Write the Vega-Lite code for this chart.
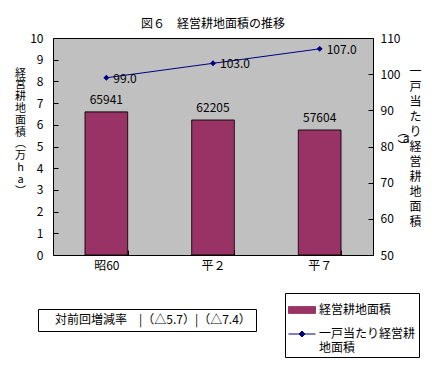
{
"$schema":"https://vega.github.io/schema/vega-lite/v6.json",
"width":320,"height":217,
"autosize":{"type":"none"},
"padding":{"left":53,"top":38,"right":60,"bottom":120},
"background":"#ffffff",
"config":{
  "font":"Noto Sans CJK JP",
  "view":{"fill":"#c0c0c0","stroke":"#000000","strokeWidth":1},
  "axis":{"domain":false,"grid":false,"labelColor":"#000000","labelFontSize":12,"labelFont":"Noto Sans CJK JP","tickColor":"#000000","titleColor":"#000000","titleFontWeight":"normal","titleFont":"Noto Sans CJK JP"},
  "legend":{"labelFont":"Noto Sans CJK JP","labelColor":"#000000","labelFontSize":12,"labelLimit":400}
},
"title":{"text":"図６　経営耕地面積の推移","fontSize":12,"fontWeight":"normal","color":"#000000","anchor":"middle","offset":1,"font":"Noto Sans CJK JP"},
"data":{"values":[
  {"period":"昭60","area_manha":6.5941,"area_ha":65941,"per_farm":99.0},
  {"period":"平２","area_manha":6.2205,"area_ha":62205,"per_farm":103.0},
  {"period":"平７","area_manha":5.7604,"area_ha":57604,"per_farm":107.0}
]},
"encoding":{"x":{"field":"period","type":"nominal","sort":null,"scale":{"paddingInner":0.6,"paddingOuter":0.3},"axis":{"title":null,"labelAngle":0,"tickBand":"extent","tickSize":-5,"labelPadding":10}}},
"layer":[
 {"encoding":{"y":{"field":"area_manha","type":"quantitative","scale":{"domain":[0,10],"nice":false},
    "axis":{"orient":"left","values":[0,1,2,3,4,5,6,7,8,9,10],"tickSize":-5,"labelPadding":15,
      "title":["経","営","耕","地","面","積","︵","万","h","a","︶"],
      "titleAngle":0,"titleAlign":"center","titleBaseline":"top","titleX":-33,"titleY":29,"titleLineHeight":11.8,"titleFontSize":11}}},
  "layer":[
   {"mark":{"type":"bar","stroke":"#000000","strokeWidth":1},
    "encoding":{
      "color":{"datum":"経営耕地面積","type":"nominal","scale":{"domain":["経営耕地面積","一戸当たり経営耕地面積"],"range":["#993366","#000080"]},
        "legend":{"orient":"none","legendX":232,"legendY":255,"title":null,"strokeColor":"#000000","fillColor":"#ffffff","padding":3,"rowPadding":4,"symbolSize":729,"labelOffset":3,"symbolStrokeWidth":1,
          "labelExpr":"datum.label === '一戸当たり経営耕地面積' ? ['一戸当たり経営耕','地面積'] : datum.label"}},
      "strokeDash":{"datum":"対前回増減率　|（△5.7）|（△7.4）　","type":"nominal","scale":{"range":[[1,0]]},
        "legend":{"orient":"none","legendX":-15,"legendY":271,"title":null,"strokeColor":"#000000","fillColor":"#ffffff","padding":5,"symbolSize":16,"symbolOpacity":0,"symbolStrokeWidth":0,"labelOffset":0}}
    }},
   {"mark":{"type":"text","baseline":"bottom","dy":-5,"fontSize":12,"color":"#000000"},
    "encoding":{"text":{"field":"area_ha","type":"quantitative","format":"d"}}}
  ]},
 {"encoding":{"y":{"field":"per_farm","type":"quantitative","scale":{"domain":[50,110],"nice":false},
    "axis":{"orient":"right","values":[50,60,70,80,90,100,110],"tickSize":-5,"labelPadding":12,
      "title":["一","\u200b","戸","\u200b","当","\u200b","た","\u200b","︵り","a　\u200b","︶経","\u200b","営","\u200b","耕","\u200b","地","\u200b","面","\u200b","積"],
      "titleAngle":0,"titleAlign":"right","titleBaseline":"top","titleX":48,"titleY":28,"titleLineHeight":7.5,"titleFontSize":12}}},
  "layer":[
   {"mark":{"type":"line","strokeWidth":1},
    "encoding":{"color":{"datum":"一戸当たり経営耕地面積","type":"nominal"}}},
   {"mark":{"type":"point","filled":true,"size":729,"opacity":1},
    "encoding":{"color":{"datum":"一戸当たり経営耕地面積","type":"nominal"},
      "shape":{"datum":"一戸当たり経営耕地面積","type":"nominal","scale":{"domain":["経営耕地面積","一戸当たり経営耕地面積"],"range":["M-1,-0.25H1V0.25H-1Z","M-1,0H1M0,-0.22L0.22,0L0,0.22L-0.22,0Z"]}}}},
   {"mark":{"type":"text","align":"left","baseline":"middle","dx":7,"dy":1,"fontSize":12,"color":"#000000"},
    "encoding":{"text":{"field":"per_farm","type":"quantitative","format":".1f"}}}
  ]}
],
"resolve":{"scale":{"y":"independent"}}
}
